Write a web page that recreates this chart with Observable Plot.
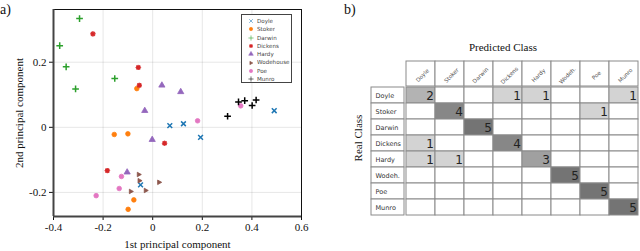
<!DOCTYPE html>
<html><head><meta charset="utf-8">
<script src="https://cdn.jsdelivr.net/npm/d3@7"></script>
<script src="https://cdn.jsdelivr.net/npm/@observablehq/plot@0.6"></script>
<style>
body{margin:0;width:640px;height:251px;overflow:hidden;background:#fff;position:relative;}
#a{position:absolute;left:0;top:0;}
#b{position:absolute;left:330px;top:0;}
.lbl{position:absolute;font-family:"Liberation Serif",serif;font-size:14px;color:#111;line-height:14px;}
.ttl{position:absolute;font-family:"Liberation Serif",serif;font-size:11px;color:#111;line-height:12px;text-align:center;white-space:nowrap;}
#legbox{position:absolute;left:241px;top:14px;width:51px;height:69px;border:1px solid #444;box-sizing:border-box;background:#fff;padding:2px 0 0 6px;overflow:hidden;}
div.lg-swatches{font-family:"DejaVu Sans",sans-serif!important;font-size:5.6px!important;color:#444!important;margin:0!important;min-height:0!important;}
div.lg-swatches .lg-swatch{padding-bottom:0!important;height:8.3px;line-height:8.3px;display:flex;align-items:center;}
div.lg-swatches .lg-swatch svg{margin-right:3px!important;}
</style></head><body>
<div id="a"></div><div id="b"></div>
<div class="lbl" style="left:0px;top:3px">a)</div>
<div class="lbl" style="left:344px;top:3px">b)</div>
<div class="ttl" style="left:443px;top:41px;width:120px">Predicted Class</div>
<div class="ttl" style="left:318px;top:132px;width:80px;transform:rotate(-90deg)">Real Class</div>
<div id="legbox"></div>
<script>
// ---- panel a data ----
const authors = ["Doyle","Stoker","Darwin","Dickens","Hardy","Wodehouse","Poe","Munro"];
const doyle     = [[0.069,0.005],[0.124,0.011],[0.193,-0.031],[0.490,0.051],[-0.049,-0.177]];
const stoker    = [[-0.064,0.119],[-0.155,-0.022],[-0.100,-0.020],[-0.076,-0.223],[-0.099,-0.252]];
const darwin    = [[-0.295,0.334],[-0.375,0.251],[-0.349,0.186],[-0.311,0.118],[-0.153,0.150]];
const dickens   = [[-0.241,0.287],[-0.058,0.184],[-0.054,0.129],[0.048,-0.049],[-0.183,-0.133]];
const hardy     = [[0.037,0.129],[0.113,0.109],[-0.032,0.051],[-0.002,-0.038],[-0.103,-0.138]];
const wodehouse = [[-0.056,-0.145],[-0.053,-0.164],[0.026,-0.169],[-0.088,-0.197],[-0.028,-0.194]];
const poe       = [[0.181,0.020],[0.355,0.066],[-0.126,-0.151],[-0.135,-0.188],[-0.228,-0.210]];
const munro     = [[0.302,0.034],[0.346,0.078],[0.371,0.082],[0.401,0.067],[0.417,0.084]];
const xTicks = [-0.4,-0.2,0,0.2,0.4,0.6];
const yTicks = [-0.2,0,0.2];
const xDomain = [-0.4,0.6];
const yDomain = [-0.274,0.362];

// ---- panel b data ----
const predictedClasses = ["Doyle","Stoker","Darwin","Dickens","Hardy","Wodeh.","Poe","Munro"];
const realClasses      = ["Doyle","Stoker","Darwin","Dickens","Hardy","Wodeh.","Poe","Munro"];
const counts = [
  [2,0,0,1,1,0,0,1],
  [0,4,0,0,0,0,1,0],
  [0,0,5,0,0,0,0,0],
  [1,0,0,4,0,0,0,0],
  [1,1,0,0,3,0,0,0],
  [0,0,0,0,0,5,0,0],
  [0,0,0,0,0,0,5,0],
  [0,0,0,0,0,0,0,5]
];

// ---- styles ----
const authorColors = ["#1f77b4","#ff7f0e","#2ca02c","#d62728","#9467bd","#8c564b","#e377c2","#000000"];
const rightTriangle = {draw(ctx, size){
  const r = Math.sqrt(size/Math.PI)*1.1;
  ctx.moveTo(r,0); ctx.lineTo(-r*0.6,-r*0.9); ctx.lineTo(-r*0.6,r*0.9); ctx.closePath();
}};
const blob = {draw(ctx, size){
  const r = Math.sqrt(size/Math.PI)*1.05;
  for (let k = 0; k < 16; k++) {
    const a = k*Math.PI/8, rr = k % 2 ? r*0.8 : r*1.05;
    const px = rr*Math.cos(a), py = rr*Math.sin(a);
    if (k === 0) ctx.moveTo(px, py); else ctx.lineTo(px, py);
  }
  ctx.closePath();
}};
const authorSymbols = ["times","circle","plus",blob,"triangle",rightTriangle,"circle","plus"];
const strokeSymbolAuthors = new Set(["Doyle","Darwin","Munro"]);

const series = [doyle,stoker,darwin,dickens,hardy,wodehouse,poe,munro];
const points = authors.flatMap((a,i) => series[i].map(([x,y]) => ({author:a, pc1:x, pc2:y})));

const plotA = Plot.plot({
  width: 330, height: 251,
  marginLeft: 53, marginRight: 29, marginTop: 9, marginBottom: 35,
  style: {fontFamily: "Liberation Serif, serif", fontSize: "11px", color: "#111", background: "transparent"},
  x: {domain: xDomain, ticks: xTicks, tickFormat: d => String(d), tickSize: 4, tickPadding: 3, grid: true,
      label: "1st principal component", labelAnchor: "center", labelOffset: 31, labelArrow: "none"},
  y: {domain: yDomain, ticks: yTicks, tickFormat: d => String(d), tickSize: 4, tickPadding: 3, grid: true,
      label: "2nd principal component", labelAnchor: "center", labelOffset: 38, labelArrow: "none"},
  color: {domain: authors, range: authorColors},
  symbol: {domain: authors, range: authorSymbols},
  marks: [
    Plot.frame({stroke: "#111"}),
    Plot.ruleX([xDomain[0]], {stroke: "#444", strokeWidth: 2}),
    Plot.ruleY([yDomain[0]], {stroke: "#444", strokeWidth: 2}),
    Plot.dot(points, {x: "pc1", y: "pc2", symbol: "author", fill: "author", stroke: "author", r: 2.3,
      strokeWidth: d => strokeSymbolAuthors.has(d.author) ? 1.5 : 0.8})
  ]
});
document.getElementById("a").appendChild(plotA);
const leg = plotA.legend("symbol", {columns: 1, swatchSize: 6, className: "lg"});
if (leg) document.getElementById("legbox").appendChild(leg);

// ---- panel b ----
const cells = realClasses.flatMap((r,i) => predictedClasses.map((p,j) => ({real: r, pred: p, n: counts[i][j]})));
const W = 310, H = 251, mL = 74, mR = 0.5, mT = 86, mB = 34.7;
const fw = W - mL - mR, fh = H - mT - mB;
const gridColor = "#8a8a8a";
const plotB = Plot.plot({
  width: W, height: H, marginLeft: mL, marginRight: mR, marginTop: mT, marginBottom: mB,
  style: {fontFamily: "DejaVu Sans, sans-serif", background: "transparent", color: "#222"},
  x: {domain: predictedClasses, axis: null, padding: 0},
  y: {domain: realClasses, axis: null, padding: 0},
  color: {type: "ordinal", domain: [0,1,2,3,4,5], range: ["#ffffff","#d3d3d3","#b3b3b3","#a0a0a0","#878787","#747474"]},
  marks: [
    Plot.cell(predictedClasses, {x: d => d, fill: "#fff", stroke: gridColor, insetTop: -25, insetBottom: fh}),
    Plot.cell(realClasses, {y: d => d, fill: "#fff", stroke: gridColor, insetLeft: -33, insetRight: fw}),
    Plot.cell(cells, {x: "pred", y: "real", fill: "n", stroke: gridColor}),
    Plot.text(cells.filter(d => d.n > 0), {x: "pred", y: "real", text: "n", textAnchor: "end", dx: 12.8, dy: 0.5, fontSize: 12, fill: "#222"}),
    Plot.text(predictedClasses, {x: d => d, frameAnchor: "top", dy: -12.5, rotate: -45, text: d => d, fontSize: 5.6, fill: "#555"}),
    Plot.text(realClasses, {y: d => d, frameAnchor: "left", textAnchor: "start", dx: -29, text: d => d, fontSize: 6.5, fill: "#333"})
  ]
});
document.getElementById("b").appendChild(plotB);
</script>
</body></html>
